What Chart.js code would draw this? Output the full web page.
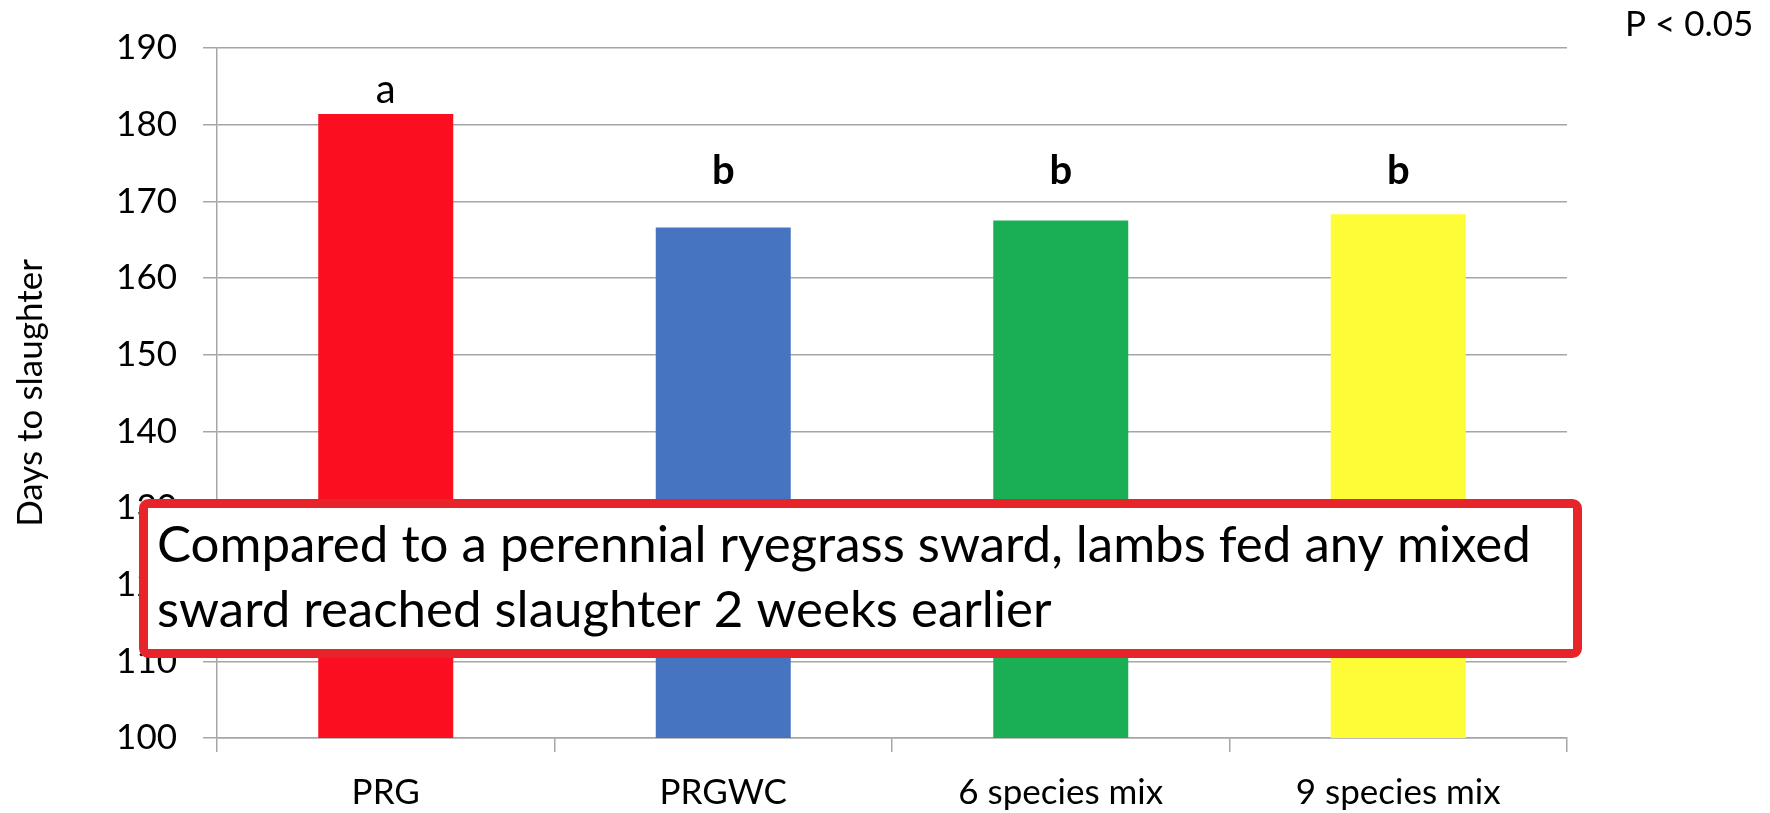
<!DOCTYPE html>
<html>
<head>
<meta charset="utf-8">
<script src="https://cdn.jsdelivr.net/npm/chart.js@4"></script>
<style>
  html, body { margin: 0; padding: 0; background: #fff; }
  #wrap { width: 1770px; height: 813px; }
</style>
</head>
<body>
<div id="wrap"><canvas id="chart" width="1770" height="813"></canvas></div>
<script>
// data
const swards = ['PRG', 'PRGWC', '6 species mix', '9 species mix'];
const daysToSlaughter = [181.4, 166.6, 167.5, 168.3];
const sigLetters = ['a', 'b', 'b', 'b'];
const barColours = ['#FB0E20', '#4674C1', '#1BAF55', '#FEFB37'];
const yTicks = [100, 110, 120, 130, 140, 150, 160, 170, 180, 190];

const note = ['Compared to a perennial ryegrass sward, lambs fed any mixed',
              'sward reached slaughter 2 weeks earlier'];
const pNote = 'P < 0.05';

const gridGrey = '#A6A6A6';
const font = 'Lato';

// letters above the bars: 'a' sits just over its bar, the 'b's share one line
const letterPlugin = {
    id: 'letters',
    afterDatasetsDraw(chart) {
        const ctx = chart.ctx;
        const meta = chart.getDatasetMeta(0);
        const yScale = chart.scales.y;
        const groupTop = {};
        sigLetters.forEach((l, i) => {
            const top = yScale.getPixelForValue(daysToSlaughter[i]);
            groupTop[l] = groupTop[l] === undefined ? top : Math.min(groupTop[l], top);
        });
        const gap = {a: 11, b: 30};
        ctx.save();
        ctx.fillStyle = '#000';
        ctx.textAlign = 'center';
        ctx.textBaseline = 'alphabetic';
        sigLetters.forEach((l, i) => {
            ctx.font = (l === 'b' ? 'bold ' : '') + '40px ' + font;
            ctx.fillText(l, meta.data[i].x, groupTop[l] - gap[l]);
        });
        ctx.restore();
    }
};

// red call-out box and the P value note
const notePlugin = {
    id: 'note',
    afterDraw(chart) {
        const ctx = chart.ctx;
        ctx.save();
        ctx.fillStyle = '#fff';
        ctx.strokeStyle = '#E8242B';
        ctx.lineWidth = 9;
        ctx.beginPath();
        ctx.roundRect(143.5, 503.5, 1434, 150, 5);
        ctx.fill();
        ctx.stroke();

        ctx.fillStyle = '#000';
        ctx.textAlign = 'left';
        ctx.textBaseline = 'alphabetic';
        ctx.font = '51px ' + font;
        ctx.fillText(note[0], 157, 562);
        ctx.fillText(note[1], 157, 627);

        ctx.font = '35px ' + font;
        ctx.fillText(pNote, 1625, 36);
        ctx.restore();
    }
};

const data = {
    labels: swards,
    datasets: [{
        data: daysToSlaughter,
        backgroundColor: barColours,
        borderWidth: 0,
        barPercentage: 0.4,
        categoryPercentage: 1
    }]
};

const config = {
    type: 'bar',
    data: data,
    options: {
        responsive: false,
        animation: false,
        layout: {padding: {left: 0, right: 203, top: 48, bottom: 0}},
        plugins: {
            legend: {display: false},
            tooltip: {enabled: false}
        },
        scales: {
            x: {
                grid: {
                    offset: true,
                    drawOnChartArea: false,
                    drawTicks: true,
                    tickLength: 14,
                    color: gridGrey,
                    lineWidth: 1.5
                },
                border: {display: true, color: gridGrey, width: 1.5},
                ticks: {
                    color: '#000',
                    font: {family: font, size: 35},
                    padding: 20,
                    maxRotation: 0
                },
                afterFit(scale) { scale.height = 813 - 738; }
            },
            y: {
                min: 100,
                max: 190,
                afterBuildTicks(scale) { scale.ticks = yTicks.map(v => ({value: v})); },
                grid: {
                    drawOnChartArea: true,
                    drawTicks: true,
                    tickLength: 14,
                    color: gridGrey,
                    lineWidth: 1.5
                },
                border: {display: true, color: gridGrey, width: 1.5},
                ticks: {
                    color: '#000',
                    font: {family: font, size: 35},
                    padding: 26
                },
                title: {
                    display: true,
                    text: 'Days to slaughter',
                    color: '#000',
                    font: {family: font, size: 35},
                    padding: {top: 10, bottom: 0}
                },
                afterFit(scale) { scale.width = 217; }
            }
        }
    },
    plugins: [letterPlugin, notePlugin]
};

let ctx = document.getElementById('chart').getContext('2d');
new Chart(ctx, config);
</script>
</body>
</html>
